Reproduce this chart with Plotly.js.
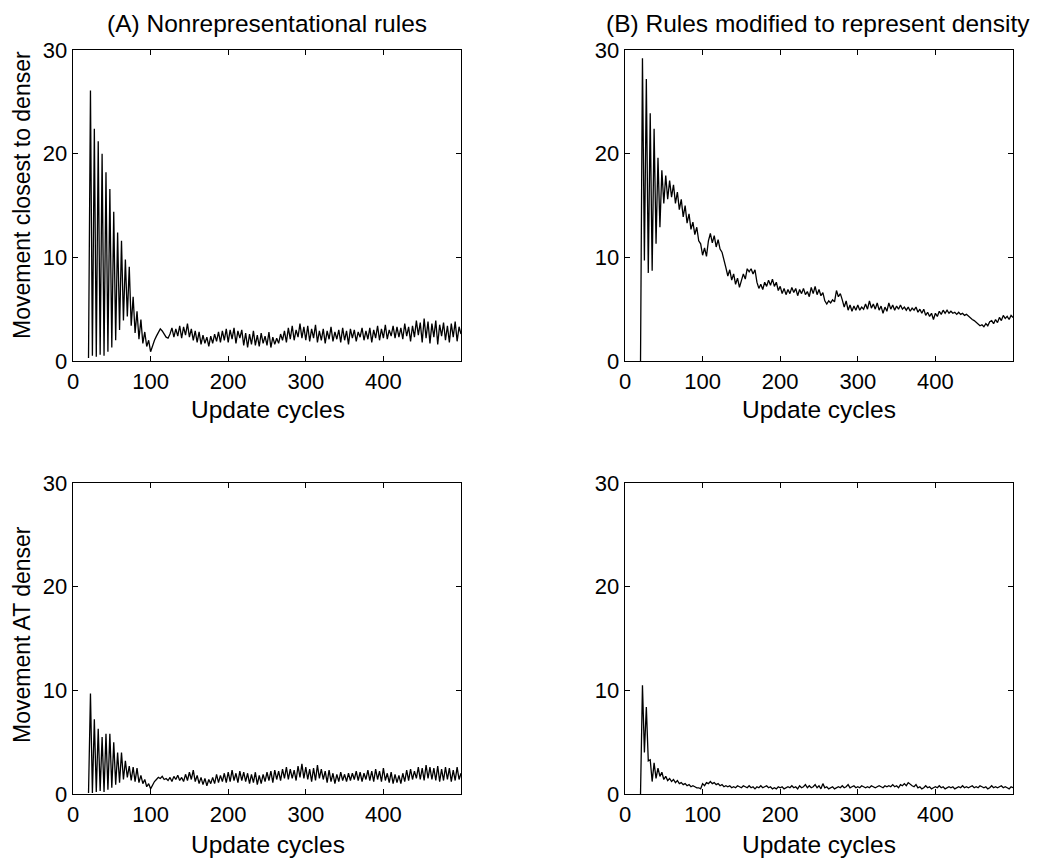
<!DOCTYPE html>
<html>
<head>
<meta charset="utf-8">
<script src="https://cdn.plot.ly/plotly-3.0.1.min.js"></script>
<style>html,body{margin:0;padding:0;background:#fff;}#chart{width:1041px;height:860px;}</style>
</head>
<body>
<div id="chart"></div>
<script>
// Update cycles sampled every 2.5 cycles from 20 to 500
const cycleStart = 20;
const cycleStep = 2.5;

// (A) Nonrepresentational rules - Movement closest to denser
const closestNonrep = [
  0.3, 26.1, 0.5, 22.4, 0.4, 21.2, 0.6, 20.0,
  0.5, 18.2, 0.9, 16.6, 1.3, 14.4, 2.0, 12.4,
  3.0, 11.6, 3.9, 9.8, 4.3, 9.1, 3.4, 6.2,
  2.7, 4.8, 2.1, 4.0, 1.7, 2.8, 1.4, 2.0,
  0.9, 1.5, 2.0, 2.4, 2.8, 3.1, 2.9, 2.6,
  2.3, 2.2, 2.6, 3.2, 2.3, 3.1, 2.4, 3.4,
  2.2, 3.3, 2.5, 3.6, 2.3, 3.1, 2.0, 2.9,
  1.8, 2.8, 1.6, 2.5, 1.7, 2.3, 1.4, 2.4,
  1.7, 2.6, 1.9, 2.8, 1.8, 2.9, 2.0, 3.1,
  1.8, 3.0, 2.1, 3.2, 1.7, 2.9, 2.2, 3.0,
  1.5, 2.7, 1.3, 2.6, 1.6, 2.9, 1.5, 2.5,
  1.4, 2.7, 1.7, 2.4, 1.5, 2.8, 1.3, 2.3,
  1.6, 2.2, 1.7, 2.6, 2.0, 2.9, 1.8, 3.2,
  2.1, 3.4, 2.0, 3.0, 2.3, 3.6, 2.2, 3.3,
  2.0, 3.4, 1.9, 3.1, 2.2, 3.5, 1.8, 2.9,
  2.0, 3.1, 1.7, 2.9, 2.1, 3.3, 1.9, 2.8,
  2.1, 3.0, 1.8, 3.2, 2.0, 2.9, 1.6, 3.1,
  2.2, 3.0, 1.9, 2.8, 2.3, 3.2, 2.0, 2.9,
  2.1, 3.2, 1.8, 3.0, 2.2, 3.4, 2.0, 3.1,
  2.2, 3.5, 2.1, 3.0, 2.4, 3.4, 2.2, 3.3,
  2.3, 3.2, 2.1, 3.6, 2.4, 3.3, 1.9, 3.4,
  2.3, 3.9, 2.5, 3.7, 1.8, 4.1, 2.2, 3.8,
  1.7, 3.6, 2.3, 3.9, 1.6, 3.5, 2.4, 3.7,
  2.0, 3.4, 1.8, 3.6, 2.3, 3.8, 1.9, 3.3,
  2.6
];

// (B) Rules modified to represent density - Movement closest to denser
const closestRep = [
  0.0, 29.2, 9.7, 27.2, 8.5, 23.9, 8.7, 22.4,
  11.3, 19.6, 12.9, 18.4, 15.2, 17.9, 15.6, 17.4,
  15.8, 17.0, 15.2, 16.3, 14.6, 15.6, 13.9, 15.0,
  13.3, 14.2, 12.7, 13.4, 12.2, 12.9, 11.6, 11.3,
  10.2, 10.9, 10.1, 11.6, 12.3, 11.4, 12.1, 11.0,
  11.7, 10.8, 10.5, 9.6, 9.0, 8.2, 8.8, 7.8,
  8.4, 7.4, 8.0, 7.1, 7.8, 8.4, 7.9, 8.9,
  8.6, 8.9, 8.4, 8.8, 7.6, 7.0, 7.4, 6.9,
  7.6, 7.2, 7.8, 7.3, 7.9, 7.2, 7.6, 6.8,
  7.2, 6.5, 7.0, 6.4, 6.9, 6.5, 7.1, 6.6,
  7.0, 6.3, 6.9, 6.5, 7.0, 6.4, 6.7, 6.2,
  7.1, 6.5, 7.2, 6.4, 6.9, 6.3, 6.6, 5.8,
  5.5, 5.8, 5.6, 5.9, 5.7, 6.8, 6.2, 6.5,
  5.9, 5.2, 5.8, 4.9, 5.4, 4.8, 5.3, 4.9,
  5.4, 4.9, 5.2, 5.0, 5.5, 5.0, 5.8, 5.1,
  5.5, 5.0, 5.6, 4.9, 5.3, 4.6, 5.2, 4.8,
  5.6, 5.0, 5.4, 4.9, 5.3, 5.0, 5.4, 5.0,
  5.2, 4.9, 5.2, 4.8, 5.1, 4.9, 5.2, 4.7,
  5.0, 4.6, 5.0, 4.4, 4.7, 4.3, 4.6, 4.0,
  4.6, 4.3, 4.8, 4.5, 4.9, 4.6, 4.9, 4.6,
  4.8, 4.6, 4.7, 4.5, 4.7, 4.5, 4.6, 4.4,
  4.5, 4.3, 4.2, 4.0, 3.9, 3.7, 3.6, 3.4,
  3.5, 3.3, 3.6, 3.4, 3.8, 3.9, 3.6, 4.0,
  3.7, 4.2, 3.9, 4.4, 4.1, 4.3, 4.0, 4.4,
  4.2
];

// (A) Nonrepresentational rules - Movement AT denser
const atNonrep = [
  0.1, 9.7, 0.1, 7.2, 0.2, 6.3, 0.3, 5.5,
  0.2, 5.8, 0.4, 5.8, 0.6, 5.0, 0.9, 4.0,
  1.1, 4.0, 1.4, 3.2, 1.6, 2.7, 1.3, 2.6,
  1.2, 2.5, 1.1, 1.8, 1.0, 1.4, 0.7, 1.0,
  0.5, 0.9, 1.2, 1.4, 1.6, 1.5, 1.7, 1.4,
  1.5, 1.3, 1.6, 1.2, 1.7, 1.4, 1.8, 1.3,
  1.6, 1.2, 1.9, 1.3, 2.1, 1.4, 2.3, 1.2,
  1.8, 1.0, 1.6, 0.9, 1.5, 0.8, 1.4, 1.0,
  1.6, 1.0, 1.9, 1.1, 1.8, 1.2, 2.0, 1.1,
  2.1, 1.2, 2.3, 1.3, 2.0, 1.1, 2.2, 1.3,
  2.1, 1.2, 2.0, 1.0, 1.9, 1.1, 2.1, 0.9,
  1.8, 1.0, 1.9, 1.2, 2.1, 1.3, 2.2, 1.1,
  2.3, 1.4, 2.2, 1.3, 2.4, 1.5, 2.6, 1.4,
  2.4, 1.5, 2.3, 1.3, 2.7, 1.6, 2.9, 1.5,
  2.6, 1.4, 2.4, 1.2, 2.5, 1.3, 2.8, 1.5,
  2.4, 1.4, 2.2, 1.1, 2.3, 1.2, 2.0, 1.0,
  1.9, 1.2, 2.1, 1.3, 1.9, 1.2, 2.0, 1.3,
  2.0, 1.4, 2.2, 1.3, 2.1, 1.2, 2.0, 1.4,
  2.3, 1.3, 2.2, 1.2, 2.4, 1.4, 2.2, 1.2,
  2.5, 1.3, 2.0, 1.1, 2.1, 1.0, 1.9, 1.1,
  1.8, 1.0, 2.0, 1.2, 2.3, 1.3, 2.4, 1.4,
  2.2, 1.5, 2.6, 1.4, 2.5, 1.3, 2.8, 1.5,
  2.6, 1.4, 2.5, 1.3, 2.7, 1.2, 2.4, 1.3,
  2.6, 1.4, 2.5, 1.2, 2.3, 1.3, 2.6, 1.4,
  2.0
];

// (B) Rules modified to represent density - Movement AT denser
const atRep = [
  0.0, 10.5, 4.0, 8.4, 3.2, 3.3, 1.2, 3.0,
  1.5, 2.5, 1.7, 2.1, 1.4, 1.7, 1.3, 1.5,
  1.2, 1.4, 1.1, 1.3, 1.0, 1.1, 0.9, 1.0,
  0.8, 0.9, 0.7, 0.8, 0.7, 0.6, 0.6, 0.5,
  1.0, 0.8, 1.1, 1.0, 1.2, 1.0, 1.1, 0.9,
  1.0, 0.8, 0.9, 0.7, 0.8, 0.7, 0.8, 0.6,
  0.7, 0.6, 0.8, 0.7, 0.6, 0.8, 0.7, 0.6,
  0.8, 0.6, 0.7, 0.5, 0.7, 0.6, 0.8, 0.6,
  0.7, 0.8, 0.6, 0.7, 0.5, 0.6, 0.5, 0.7,
  0.6, 0.7, 0.5, 0.6, 0.7, 0.6, 0.8, 0.6,
  0.7, 0.5, 0.8, 0.6, 0.7, 0.9, 0.6, 0.8,
  0.6, 0.7, 0.9, 0.6, 0.8, 0.5, 1.0, 0.6,
  0.7, 0.5, 0.6, 0.7, 0.5, 0.6, 0.7, 0.6,
  0.8, 0.6, 0.7, 0.9, 0.6, 0.7, 0.8, 0.6,
  0.7, 0.6, 0.8, 0.7, 0.6, 0.7, 0.6, 0.8,
  0.7, 0.6, 0.7, 0.8, 0.7, 0.6, 0.8, 0.7,
  0.8, 0.7, 0.9, 0.7, 0.8, 0.6, 0.9, 0.8,
  1.0, 0.8, 1.1, 0.9, 0.8, 0.7, 0.9, 0.6,
  0.7, 0.5, 0.6, 0.8, 0.6, 0.7, 0.5, 0.6,
  0.7, 0.6, 0.8, 0.6, 0.7, 0.5, 0.6, 0.7,
  0.6, 0.7, 0.5, 0.6, 0.7, 0.6, 0.8, 0.6,
  0.7, 0.6, 0.7, 0.8, 0.6, 0.7, 0.6, 0.8,
  0.7, 0.6, 0.7, 0.5, 0.6, 0.8, 0.6, 0.7,
  0.6, 0.7, 0.8, 0.6, 0.7, 0.6, 0.5, 0.7,
  0.6
];

const xTicks = [0, 100, 200, 300, 400];
const yTicks = [0, 10, 20, 30];
const panelTitles = ["(A) Nonrepresentational rules", "(B) Rules modified to represent density"];
const xTitle = "Update cycles";
const yTitles = ["Movement closest to denser", "Movement AT denser"];

const cycles = closestNonrep.map((_, i) => cycleStart + cycleStep * i);

const FONT = "Liberation Sans, Arial, Helvetica, sans-serif";
const W = 1041, H = 860;
function fx(px) { return px / W; }
function fy(py) { return 1 - py / H; }

function mk(y, xa, ya) {
  return {x: cycles, y: y, xaxis: xa, yaxis: ya, type: 'scatter', mode: 'lines',
          line: {color: '#000', width: 1.3}, hoverinfo: 'skip', showlegend: false};
}

const data = [
  mk(closestNonrep, 'x', 'y'),
  mk(closestRep, 'x2', 'y2'),
  mk(atNonrep, 'x3', 'y3'),
  mk(atRep, 'x4', 'y4')
];

function xa(dom, anchor) {
  return {domain: dom, anchor: anchor, range: [0, 500], tickvals: xTicks, ticktext: xTicks.map(String),
    ticks: 'inside', ticklen: 5, tickcolor: '#000', mirror: 'allticks', showline: true, linecolor: '#000',
    linewidth: 1.3, showgrid: false, zeroline: false, tickfont: {family: FONT, size: 22, color: '#000'}};
}
function ya(dom, anchor) {
  return {domain: dom, anchor: anchor, range: [0, 30], tickvals: yTicks, ticktext: yTicks.map(String),
    ticks: 'inside', ticklen: 5, tickcolor: '#000', mirror: 'allticks', showline: true, linecolor: '#000',
    linewidth: 1.3, showgrid: false, zeroline: false, tickfont: {family: FONT, size: 22, color: '#000'}};
}

const xL = [fx(73), fx(461)], xR = [fx(625), fx(1013)];
const yT = [fy(361), fy(50)], yB = [fy(794), fy(483)];

const ann = [];
function txt(t, x, y, size, angle) {
  ann.push({text: t, x: x, y: y, xref: 'paper', yref: 'paper', showarrow: false,
    xanchor: 'center', yanchor: 'middle', textangle: angle || 0,
    font: {family: FONT, size: size, color: '#000'}});
}
txt(panelTitles[0], fx(267), fy(23), 24.5);
txt(panelTitles[1], fx(818), fy(23), 24.5);
txt(xTitle, fx(268), fy(409), 24.5);
txt(xTitle, fx(819), fy(409), 24.5);
txt(xTitle, fx(268), fy(844), 24.5);
txt(xTitle, fx(819), fy(844), 24.5);
txt(yTitles[0], fx(22), fy(195), 23, -90);
txt(yTitles[1], fx(22), fy(635), 23, -90);

const layout = {
  width: W, height: H, margin: {l: 0, r: 0, t: 0, b: 0},
  paper_bgcolor: '#fff', plot_bgcolor: '#fff', showlegend: false,
  font: {family: FONT, color: '#000'},
  xaxis: xa(xL, 'y'), yaxis: ya(yT, 'x'),
  xaxis2: xa(xR, 'y2'), yaxis2: ya(yT, 'x2'),
  xaxis3: xa(xL, 'y3'), yaxis3: ya(yB, 'x3'),
  xaxis4: xa(xR, 'y4'), yaxis4: ya(yB, 'x4'),
  annotations: ann
};

Plotly.newPlot('chart', data, layout, {staticPlot: true, displayModeBar: false});
</script>
</body>
</html>
